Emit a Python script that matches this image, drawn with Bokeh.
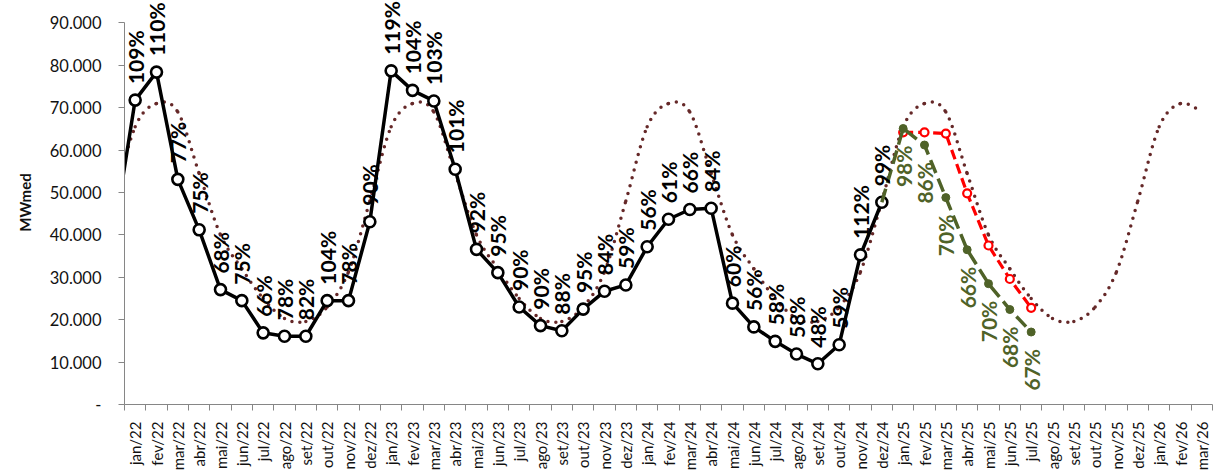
import math
from bokeh.plotting import figure
from bokeh.models import Range1d, FixedTicker, CustomJSTickFormatter
from bokeh.core.properties import value
from bokeh.embed import file_html
from bokeh.resources import INLINE

# ---------------- data ----------------
months = [
    "jan/22", "fev/22", "mar/22", "abr/22", "mai/22", "jun/22", "jul/22", "ago/22", "set/22", "out/22", "nov/22", "dez/22",
    "jan/23", "fev/23", "mar/23", "abr/23", "mai/23", "jun/23", "jul/23", "ago/23", "set/23", "out/23", "nov/23", "dez/23",
    "jan/24", "fev/24", "mar/24", "abr/24", "mai/24", "jun/24", "jul/24", "ago/24", "set/24", "out/24", "nov/24", "dez/24",
    "jan/25", "fev/25", "mar/25", "abr/25", "mai/25", "jun/25", "jul/25", "ago/25", "set/25", "out/25", "nov/25", "dez/25",
    "jan/26", "fev/26", "mar/26",
]

# long-term average (MLT), from dez/21 (one month before the first label) to mar/26
mlt_start = -1
mlt = [
    48000,
    65500, 71000, 69000, 54500, 40000, 32000, 25000, 20300, 19600, 23000, 31300, 48000,
    65500, 71000, 69000, 54500, 40000, 32000, 25000, 20300, 19600, 23000, 31300, 48000,
    65500, 71000, 69000, 54500, 40000, 32000, 25000, 20300, 19600, 23000, 31300, 48000,
    65500, 71000, 69000, 54500, 40000, 32000, 25000, 20300, 19600, 23000, 31300, 48000,
    65500, 71000, 69000,
]

# verified energy, from dez/21 to dez/24
actual_start = -1
actual = [
    40000,
    71800, 78400, 53100, 41200, 27100, 24500, 16900, 16100, 16100, 24500, 24500, 43100,
    78700, 74100, 71600, 55500, 36600, 31100, 23000, 18600, 17400, 22500, 26700, 28200,
    37200, 43700, 46000, 46300, 23900, 18300, 14900, 11900, 9600, 14100, 35300, 47700,
]
actual_pct = [
    "109%", "110%", "77%", "75%", "68%", "75%", "66%", "78%", "82%", "104%", "78%", "90%",
    "119%", "104%", "103%", "101%", "92%", "95%", "90%", "90%", "88%", "95%", "84%", "59%",
    "56%", "61%", "66%", "84%", "60%", "56%", "58%", "58%", "48%", "59%", "112%", "99%",
]

# forecast (green), from dez/24 to jul/25
green_start = 35
green = [47700, 65100, 61200, 48800, 36500, 28500, 22400, 17100]
green_pct = ["98%", "86%", "70%", "66%", "70%", "68%", "67%"]

# previous forecast (red), from jan/25 to jul/25
red_start = 36
red = [64200, 64200, 63900, 49800, 37500, 29600, 22800]

y_ticks = [0, 10000, 20000, 30000, 40000, 50000, 60000, 70000, 80000, 90000]

# ---------------- styles ----------------
FONT = "Lato"
AXIS_GREY = "#868686"
TEXT_COL = "#111111"
MLT_COL = "#652828"
GREEN_COL = "#4F6228"
RED_COL = "#FF0000"

p = figure(
    width=1218, height=473,
    output_backend="svg", toolbar_location=None,
    x_range=Range1d(-0.5, len(months) - 0.5),
    y_range=Range1d(0, 95290),
    min_border_left=124, min_border_right=6, min_border_top=0, min_border_bottom=68,
)
p.outline_line_color = None
p.xgrid.visible = False
p.ygrid.visible = False
p.background_fill_color = "white"
p.border_fill_color = "white"

# ---- MLT: smooth dotted curve (cubic Bezier segments through the points) ----
mx = [mlt_start + i for i in range(len(mlt))]
n = len(mlt)
x0, y0, x1, y1, cx0, cy0, cx1, cy1 = [], [], [], [], [], [], [], []
for i in range(n - 1):
    im1 = max(i - 1, 0)
    ip2 = min(i + 2, n - 1)
    x0.append(mx[i]); y0.append(mlt[i])
    x1.append(mx[i + 1]); y1.append(mlt[i + 1])
    cx0.append(mx[i] + (mx[i + 1] - mx[im1]) / 6.0)
    cy0.append(mlt[i] + (mlt[i + 1] - mlt[im1]) / 6.0)
    cx1.append(mx[i + 1] - (mx[ip2] - mx[i]) / 6.0)
    cy1.append(mlt[i + 1] - (mlt[ip2] - mlt[i]) / 6.0)
p.bezier(x0=x0, y0=y0, x1=x1, y1=y1, cx0=cx0, cy0=cy0, cx1=cx1, cy1=cy1,
         line_color=MLT_COL, line_width=3.5, line_dash="0 8", line_cap="round")

# ---- verified (black) ----
ax = [actual_start + i for i in range(len(actual))]
p.line(ax, actual, line_color="black", line_width=3.5, line_join="round")
p.scatter(ax, actual, marker="circle", size=11, fill_color="white", line_color="black", line_width=2.6)

# ---- red forecast ----
rx = [red_start + i for i in range(len(red))]
p.line(rx, red, line_color=RED_COL, line_width=3.2, line_dash="10 5")
p.scatter(rx, red, marker="circle", size=8, fill_color="white", line_color=RED_COL, line_width=2.2)

# ---- green forecast ----
gx = [green_start + i for i in range(len(green))]
p.line(gx, green, line_color=GREEN_COL, line_width=3.5, line_dash="14 6")
p.scatter(gx[1:], green[1:], marker="circle", size=8, fill_color=GREEN_COL, line_color=GREEN_COL)

# ---- labels ----
lab_x = list(range(len(actual_pct)))
lab_y = actual[1:]
p.text(x=lab_x, y=lab_y, text=actual_pct, angle=math.pi / 2,
       text_align="left", text_baseline="middle", y_offset=-16,
       text_font=value(FONT), text_font_style="bold", text_font_size="21px", text_color="black")

glab_x = gx[1:]
glab_y = green[1:]
p.text(x=glab_x, y=glab_y, text=green_pct, angle=math.pi / 2,
       text_align="right", text_baseline="middle", y_offset=17,
       text_font=value(FONT), text_font_style="bold", text_font_size="21px", text_color=GREEN_COL)

# ---- axes ----
yax = p.yaxis[0]
yax.ticker = FixedTicker(ticks=y_ticks, minor_ticks=[])
yax.bounds = (0, 90000)
yax.formatter = CustomJSTickFormatter(code="return tick === 0 ? '-' : Math.round(tick / 1000) + '.000';")
yax.axis_line_color = AXIS_GREY
yax.major_tick_line_color = AXIS_GREY
yax.major_tick_out = 6
yax.major_tick_in = 0
yax.minor_tick_line_color = None
yax.major_label_standoff = 17
yax.major_label_text_font = FONT
yax.major_label_text_font_size = "16.5px"
yax.major_label_text_color = TEXT_COL
yax.axis_label = "MWmed"
yax.axis_label_text_font = FONT
yax.axis_label_text_font_style = "bold"
yax.axis_label_text_font_size = "15px"
yax.axis_label_text_color = TEXT_COL
yax.axis_label_standoff = 13

xax = p.xaxis[0]
xax.ticker = FixedTicker(ticks=list(range(len(months))),
                         minor_ticks=[i - 0.5 for i in range(len(months) + 1)])
xax.formatter = CustomJSTickFormatter(args=dict(labels=months),
                                      code="const i = Math.round(tick); return (i >= 0 && i < labels.length) ? labels[i] : '';")
xax.axis_line_color = AXIS_GREY
xax.major_tick_line_color = None
xax.major_tick_out = 0
xax.major_tick_in = 0
xax.minor_tick_line_color = AXIS_GREY
xax.minor_tick_out = 6
xax.minor_tick_in = 0
xax.major_label_orientation = math.pi / 2
xax.major_label_standoff = 11
xax.major_label_text_font = FONT
xax.major_label_text_font_size = "15px"
xax.major_label_text_color = TEXT_COL

open("out.html", "w").write(file_html(p, INLINE))
